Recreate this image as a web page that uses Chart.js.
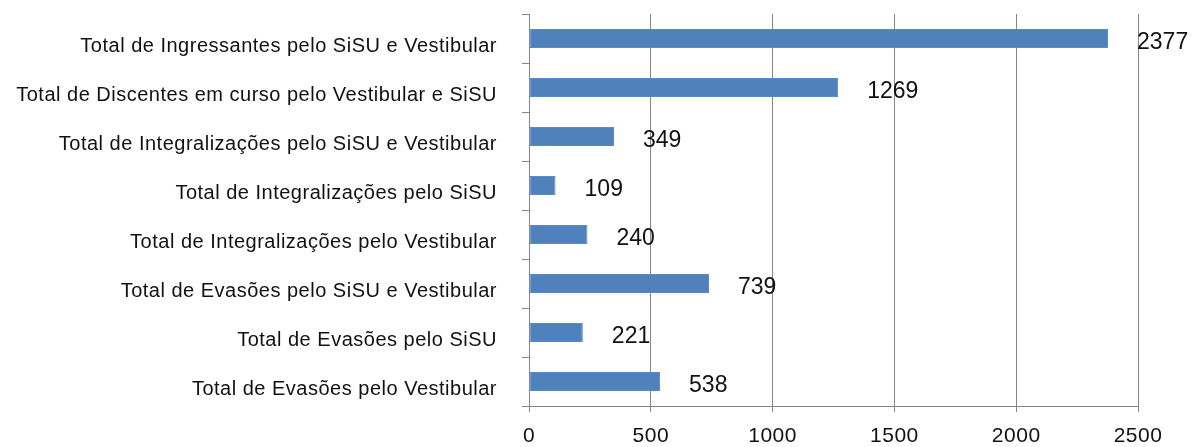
<!DOCTYPE html>
<html>
<head>
<meta charset="utf-8">
<script src="https://cdn.jsdelivr.net/npm/chart.js@4/dist/chart.umd.min.js"></script>
<style>
html,body{margin:0;padding:0;background:#fff;}
#wrap{width:1203px;height:447px;}
</style>
</head>
<body>
<div id="wrap"><canvas id="c" width="1203" height="447"></canvas></div>
<script>
const categories = [
  "Total de Ingressantes pelo SiSU e Vestibular",
  "Total de Discentes em curso pelo Vestibular e SiSU",
  "Total de Integralizações pelo SiSU e Vestibular",
  "Total de Integralizações pelo SiSU",
  "Total de Integralizações pelo Vestibular",
  "Total de Evasões pelo SiSU e Vestibular",
  "Total de Evasões pelo SiSU",
  "Total de Evasões pelo Vestibular"
];
const values = [2377, 1269, 349, 109, 240, 739, 221, 538];
const xTicks = [0, 500, 1000, 1500, 2000, 2500];

const spacing = {
  id: 'spacing',
  beforeDraw(chart) { chart.ctx.letterSpacing = '0.5px'; },
  afterDraw(chart) { chart.ctx.letterSpacing = '0px'; }
};

const valueLabels = {
  id: 'valueLabels',
  afterDatasetsDraw(chart) {
    const ctx = chart.ctx;
    const meta = chart.getDatasetMeta(0);
    ctx.save();
    ctx.letterSpacing = '0px';
    ctx.font = '23px "Liberation Sans", Arial, sans-serif';
    ctx.fillStyle = '#111111';
    ctx.textAlign = 'left';
    ctx.textBaseline = 'middle';
    meta.data.forEach((bar, i) => {
      ctx.fillText(String(values[i]), bar.x + 29, bar.y + 4);
    });
    ctx.restore();
  }
};

new Chart(document.getElementById('c'), {
  type: 'bar',
  data: {
    labels: categories,
    datasets: [{
      data: values,
      backgroundColor: '#4F81BD',
      borderColor: '#5A8AC6',
      borderWidth: 1,
      borderSkipped: false,
      barPercentage: 0.39,
      categoryPercentage: 1.0
    }]
  },
  options: {
    indexAxis: 'y',
    responsive: false,
    animation: false,
    devicePixelRatio: 1,
    layout: { padding: { top: 14, right: 65, left: 0, bottom: 0 } },
    plugins: { legend: { display: false }, tooltip: { enabled: false } },
    scales: {
      x: {
        min: 0, max: 2500,
        afterBuildTicks(scale) { scale.ticks = xTicks.map(v => ({ value: v })); },
        afterFit(scale) { scale.height = 41; scale.paddingLeft = 0; scale.paddingRight = 0; },
        grid: { color: '#868686', lineWidth: 1, tickLength: 6, drawTicks: true },
        border: { display: true, color: '#868686', width: 1 },
        ticks: {
          padding: 12,
          color: '#111111',
          callback: (v) => String(v),
          font: { family: '"Liberation Sans", Arial, sans-serif', size: 21 }
        }
      },
      y: {
        afterFit(scale) { scale.width = 529; scale.paddingTop = 0; scale.paddingBottom = 0; },
        grid: { drawOnChartArea: false, drawTicks: true, tickLength: 7, color: '#868686', offset: true },
        border: { display: true, color: '#868686', width: 1 },
        ticks: {
          padding: 25,
          labelOffset: 8,
          color: '#111111',
          font: { family: '"Liberation Sans", Arial, sans-serif', size: 20 }
        }
      }
    }
  },
  plugins: [spacing, valueLabels]
});
</script>
</body>
</html>
